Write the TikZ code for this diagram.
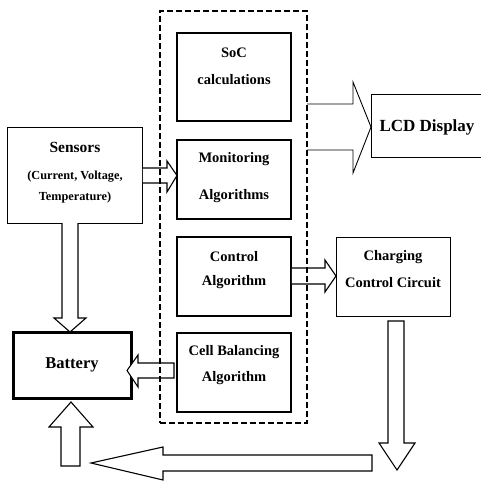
\documentclass[tikz,border=0pt]{standalone}
\usepackage{fontspec}
\setmainfont{Liberation Serif}
\usetikzlibrary{calc}
\begin{document}
\begin{tikzpicture}[x=1pt,y=-1pt,
  algbox/.style={draw,line width=1.8pt,minimum width=114pt,minimum height=#1,inner sep=0pt},
  thinbox/.style={draw,line width=0.9pt,inner sep=0pt},
  batbox/.style={draw,line width=3pt,inner sep=0pt},
  txt/.style={font=\bfseries\fontsize{14.5}{15}\selectfont,inner sep=0pt,anchor=center},
  smalltxt/.style={font=\bfseries\fontsize{12.3}{13}\selectfont,inner sep=0pt,anchor=center},
  blockarrow/.style={draw,fill=white,line width=1.1pt,line join=miter}]
\useasboundingbox (0,0) rectangle (481,482);
% boxes
\node[algbox=88pt] (soc) at (234,77) {};
\node[algbox=79pt] (mon) at (234,179.5) {};
\node[algbox=79pt] (ctl) at (234,276.5) {};
\node[algbox=79pt] (cell) at (234,372.5) {};
\node[thinbox,minimum width=135pt,minimum height=96pt] (sens) at (75,175) {};
\node[batbox,minimum width=118pt,minimum height=66pt] (bat) at (72,365.5) {};
\node[thinbox,minimum width=114pt,minimum height=63pt] (lcd) at (428,125.5) {};
\node[thinbox,minimum width=114pt,minimum height=79pt] (chg) at (393,276.5) {};
% texts
\node[txt] (t1) at ($(soc.north)+(0,21)$) {SoC};
\node[txt] (t2) at ($(soc.north)+(0,47)$) {calculations};
\node[txt] (t3) at ($(mon.north)+(0,20)$) {Monitoring};
\node[txt] (t4) at ($(mon.north)+(0,57)$) {Algorithms};
\node[txt] (t5) at ($(ctl.north)+(0,20)$) {Control};
\node[txt] (t6) at ($(ctl.north)+(0,46)$) {Algorithm};
\node[txt] (t7) at ($(cell.north)+(0,20)$) {Cell Balancing};
\node[txt] (t8) at ($(cell.north)+(0,46)$) {Algorithm};
\node[txt,font=\bfseries\fontsize{15.5}{16}\selectfont] (t9) at ($(sens.north)+(0,21)$) {Sensors};
\node[smalltxt] (t10) at ($(sens.north)+(0,50)$) {(Current, Voltage,};
\node[smalltxt] (t11) at ($(sens.north)+(0,71)$) {Temperature)};
\node[txt,font=\bfseries\fontsize{16.5}{17}\selectfont] (t12) at (72,365) {Battery};
\node[txt,font=\bfseries\fontsize{17}{18}\selectfont] (t13) at (427,127) {LCD Display};
\node[txt] (t14) at ($(chg.north)+(0,21)$) {Charging};
\node[txt] (t15) at ($(chg.north)+(0,46)$) {Control Circuit};
% block arrows
% sensors -> monitoring
\draw[blockarrow] (sens.east |- 0,168) -- (167,168) -- (167,161) -- (177,175.5) -- (167,192) -- (167,183) -- (sens.east |- 0,183);
% control -> charging
\draw[blockarrow] (ctl.east |- 0,268) -- (325,268) -- (325,260) -- (336,276) -- (325,292) -- (325,284) -- (ctl.east |- 0,284);
% cell balancing -> battery
\draw[blockarrow] (174,363) -- (138,363) -- (138,355) -- (127,370.5) -- (138,387) -- (138,378) -- (174,378) -- cycle;
% sensors -> battery
\draw[blockarrow] (62,223) -- (62,318) -- (54,318) -- (70,332) -- (86,318) -- (78,318) -- (78,223);
% charging down
\draw[blockarrow] (388,321) -- (404,321) -- (404,443) -- (415,443) -- (397,470) -- (379,443) -- (388,443) -- cycle;
% bottom left arrow
\draw[blockarrow] (372,455) -- (163,455) -- (163,447) -- (91,463) -- (163,480) -- (163,471) -- (372,471) -- cycle;
% up arrow
\draw[blockarrow] (61,466) -- (61,427) -- (49,427) -- (71,402) -- (93,427) -- (80,427) -- (80,466) -- cycle;
% LCD arrow
\draw[blockarrow,line width=0.9pt] (307,104) -- (353,104) -- (353,82) -- (371,127) -- (353,173) -- (353,150) -- (307,150);
% dashed enclosure
\node[draw,dashed,line width=1.4pt,dash pattern=on 6pt off 3pt,minimum width=147pt,minimum height=412pt,inner sep=0pt] (bms) at (233.5,217) {};
\end{tikzpicture}
\end{document}
